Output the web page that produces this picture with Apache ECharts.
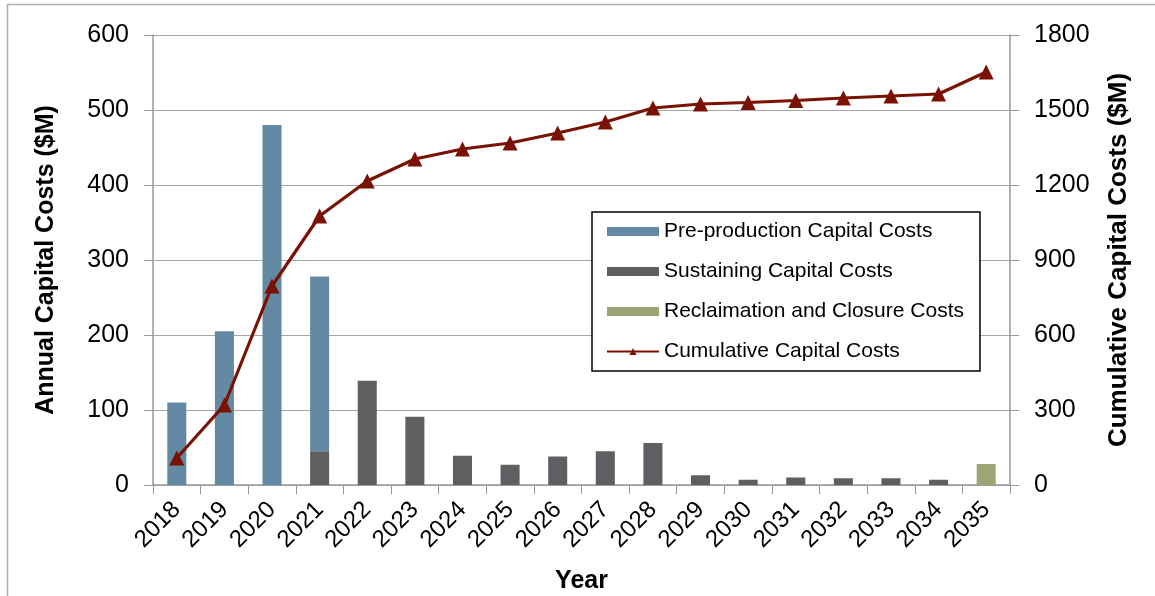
<!DOCTYPE html>
<html><head><meta charset="utf-8">
<script src="https://cdn.jsdelivr.net/npm/echarts@6/dist/echarts.min.js"></script>
<style>html,body{margin:0;padding:0;background:#fff}#c{width:1155px;height:596px}</style>
</head><body><div id="c"></div>
<script>
const years = ['2018','2019','2020','2021','2022','2023','2024','2025','2026','2027','2028','2029','2030','2031','2032','2033','2034','2035'];
const preProduction = [110, 205, 480, 233, null, null, null, null, null, null, null, null, null, null, null, null, null, null];
const sustaining = [null, null, null, 45, 139, 91, 39, 27, 38, 45, 56, 13, 7, 10, 9, 9, 7, null];
const reclamation = [null, null, null, null, null, null, null, null, null, null, null, null, null, null, null, null, null, 28];
const cumulative = [108, 320, 796, 1076, 1216, 1304, 1344, 1368, 1408, 1452, 1508, 1524, 1530, 1538, 1548, 1556, 1564, 1652];
const leftTicks = {min: 0, max: 600, interval: 100};
const rightTicks = {min: 0, max: 1800, interval: 300};

const FONT = 'Liberation Sans, Arial, sans-serif';
const chart = echarts.init(document.getElementById('c'));
chart.setOption({
  animation: false,
  textStyle: {fontFamily: FONT},
  grid: {left: 153, right: 145, top: 35, bottom: 111, outerBoundsMode: 'none', containLabel: false},
  graphic: [
    {type: 'line', shape: {x1: 7.5, y1: 4, x2: 7.5, y2: 596}, style: {stroke: '#b0b0b0', lineWidth: 1.5}, silent: true},
    {type: 'line', shape: {x1: 7, y1: 4.5, x2: 1155, y2: 4.5}, style: {stroke: '#b0b0b0', lineWidth: 1.5}, silent: true}
  ],
  legend: {
    orient: 'vertical', left: 592, top: 212,
    borderColor: '#000', borderWidth: 1.5, backgroundColor: '#fff',
    padding: [9, 16, 9, 14],
    itemWidth: 52, itemHeight: 9, itemGap: 19,
    textStyle: {fontFamily: FONT, fontSize: 21, color: '#000'},
    data: [
      {name: 'Pre-production Capital Costs', icon: 'rect'},
      {name: 'Sustaining Capital Costs', icon: 'rect'},
      {name: 'Reclaimation and Closure Costs', icon: 'rect'},
      {name: 'Cumulative Capital Costs'}
    ]
  },
  xAxis: {
    type: 'category', data: years, boundaryGap: true,
    name: 'Year', nameLocation: 'middle', nameGap: 84,
    nameTextStyle: {fontFamily: FONT, fontSize: 25, fontWeight: 'bold', color: '#000'},
    axisLine: {lineStyle: {color: '#999', width: 1.5}},
    axisTick: {show: true, alignWithLabel: false, length: 9, lineStyle: {color: '#999'}},
    axisLabel: {rotate: 45, fontSize: 24, color: '#000', margin: 21, interval: 0}
  },
  yAxis: [
    {
      type: 'value', ...leftTicks, position: 'left',
      name: 'Annual Capital Costs ($M)', nameLocation: 'middle', nameGap: 94, nameRotate: 90,
      nameTextStyle: {fontFamily: FONT, fontSize: 25, fontWeight: 'bold', color: '#000'},
      axisLine: {show: true, lineStyle: {color: '#999', width: 1.5}},
      axisTick: {show: true, length: 9, lineStyle: {color: '#999'}},
      axisLabel: {fontSize: 25, color: '#000', margin: 24},
      splitLine: {lineStyle: {color: '#a6a6a6', width: 1.2}}
    },
    {
      type: 'value', ...rightTicks, position: 'right',
      name: 'Cumulative Capital Costs ($M)', nameLocation: 'middle', nameGap: 96, nameRotate: 90,
      nameTextStyle: {fontFamily: FONT, fontSize: 26, fontWeight: 'bold', color: '#000'},
      axisLine: {show: true, lineStyle: {color: '#999', width: 1.5}},
      axisTick: {show: true, length: 9, lineStyle: {color: '#999'}},
      axisLabel: {fontSize: 25, color: '#000', margin: 24, formatter: v => String(v)},
      splitLine: {show: false}
    }
  ],
  series: [
    {name: 'Sustaining Capital Costs', type: 'bar', stack: 'a', data: sustaining, barWidth: '40%',
     itemStyle: {color: '#5e5f63'}},
    {name: 'Pre-production Capital Costs', type: 'bar', stack: 'a', data: preProduction, barWidth: '40%',
     itemStyle: {color: '#6389a3'}},
    {name: 'Reclaimation and Closure Costs', type: 'bar', stack: 'a', data: reclamation, barWidth: '40%',
     itemStyle: {color: '#9ea474'}},
    {name: 'Cumulative Capital Costs', type: 'line', yAxisIndex: 1, data: cumulative,
     symbol: 'triangle', symbolSize: 15, lineStyle: {color: '#7a1204', width: 3.2},
     itemStyle: {color: '#7a1204'}, z: 5}
  ]
});
</script></body></html>
